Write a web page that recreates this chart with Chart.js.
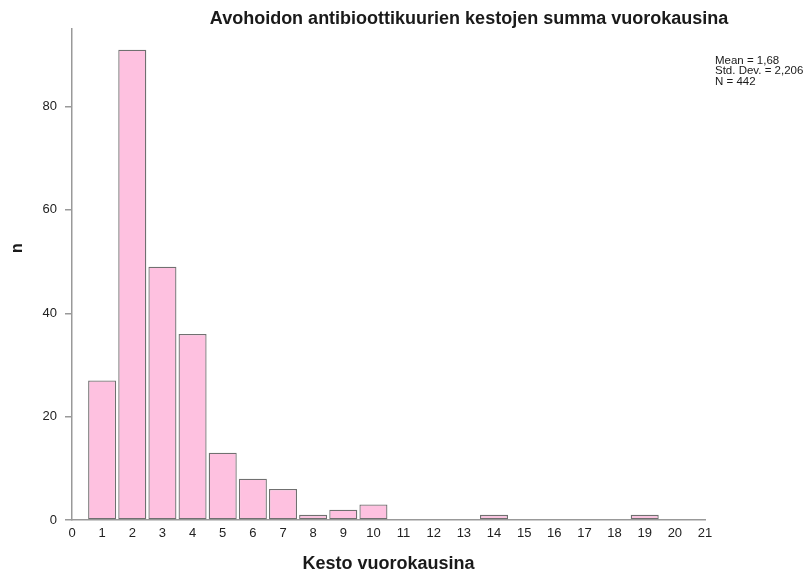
<!DOCTYPE html>
<html>
<head>
<meta charset="utf-8">
<title>Avohoidon antibioottikuurien kestojen summa vuorokausina</title>
<script src="https://cdn.jsdelivr.net/npm/chart.js@4.4.1/dist/chart.umd.min.js"></script>
<style>
    html, body { margin: 0; padding: 0; background: #fff; }
    #wrap { width: 810px; height: 579px; position: relative; }
</style>
</head>
<body>
<div id="wrap"><canvas id="histChart" width="810" height="579"></canvas></div>
<script>
// Histogram data (bins by day count)
const durations = [1, 2, 3, 4, 5, 6, 7, 8, 9, 10, 14, 19];
const counts = [27, 91, 49, 36, 13, 8, 6, 1, 2, 3, 1, 1];
const yTicks = [0, 20, 40, 60, 80];
const statsLines = ['Mean = 1,68', 'Std. Dev. = 2,206', 'N = 442'];
const chartTitle = 'Avohoidon antibioottikuurien kestojen summa vuorokausina';
const xTitle = 'Kesto vuorokausina';
const yTitle = 'n';

const FONT = '"Liberation Sans", Arial, sans-serif';

// Draws the title, y axis title and the stats box
const textPlugin = {
    id: 'textPlugin',
    afterDraw(chart) {
        const ctx = chart.ctx;
        ctx.save();
        ctx.fillStyle = '#1a1a1a';
        ctx.textBaseline = 'alphabetic';

        ctx.font = 'bold 18px ' + FONT;
        ctx.textAlign = 'center';
        ctx.fillText(chartTitle, 469, 24);

        ctx.font = '11.5px ' + FONT;
        ctx.textAlign = 'left';
        statsLines.forEach((line, i) => {
            ctx.fillText(line, 715, 63.5 + i * 10.8);
        });

        ctx.translate(18, 248);
        ctx.rotate(-Math.PI / 2);
        ctx.font = 'bold 16px ' + FONT;
        ctx.textAlign = 'center';
        ctx.textBaseline = 'middle';
        ctx.fillText(yTitle, 0, 0);
        ctx.restore();
    }
};

new Chart(document.getElementById('histChart'), {
    type: 'bar',
    data: {
        datasets: [{
            data: durations.map((d, i) => ({ x: d, y: counts[i] })),
            backgroundColor: '#fec1e0',
            borderColor: '#707070',
            borderWidth: 1.3,
            borderSkipped: false,
            barPercentage: 0.93,
            categoryPercentage: 1
        }]
    },
    options: {
        responsive: false,
        animation: false,
        layout: { padding: { top: 29, right: 105, left: 0, bottom: 0 } },
        plugins: {
            legend: { display: false },
            tooltip: { enabled: false }
        },
        scales: {
            x: {
                type: 'linear',
                min: 0,
                max: 21,
                offset: false,
                afterFit: (scale) => { scale.height = 59; },
                grid: { display: true, drawOnChartArea: false, drawTicks: false },
                border: { color: '#999', width: 1.5 },
                ticks: {
                    stepSize: 1,
                    autoSkip: false,
                    maxRotation: 0,
                    padding: 6,
                    color: '#222',
                    font: { family: FONT, size: 13 }
                },
                title: {
                    display: true,
                    text: xTitle,
                    color: '#1a1a1a',
                    padding: { top: 0, bottom: 4 },
                    font: { family: FONT, size: 18, weight: 'bold' }
                }
            },
            y: {
                min: 0,
                max: 95,
                afterFit: (scale) => { scale.width = 72; },
                afterBuildTicks: (scale) => {
                    scale.ticks = yTicks.map(v => ({ value: v }));
                },
                grid: { display: true, drawOnChartArea: false, tickLength: 7, color: '#999', lineWidth: 1.5 },
                border: { color: '#999', width: 1.5 },
                ticks: {
                    padding: 8,
                    color: '#222',
                    font: { family: FONT, size: 13 }
                }
            }
        }
    },
    plugins: [textPlugin]
});
</script>
</body>
</html>
